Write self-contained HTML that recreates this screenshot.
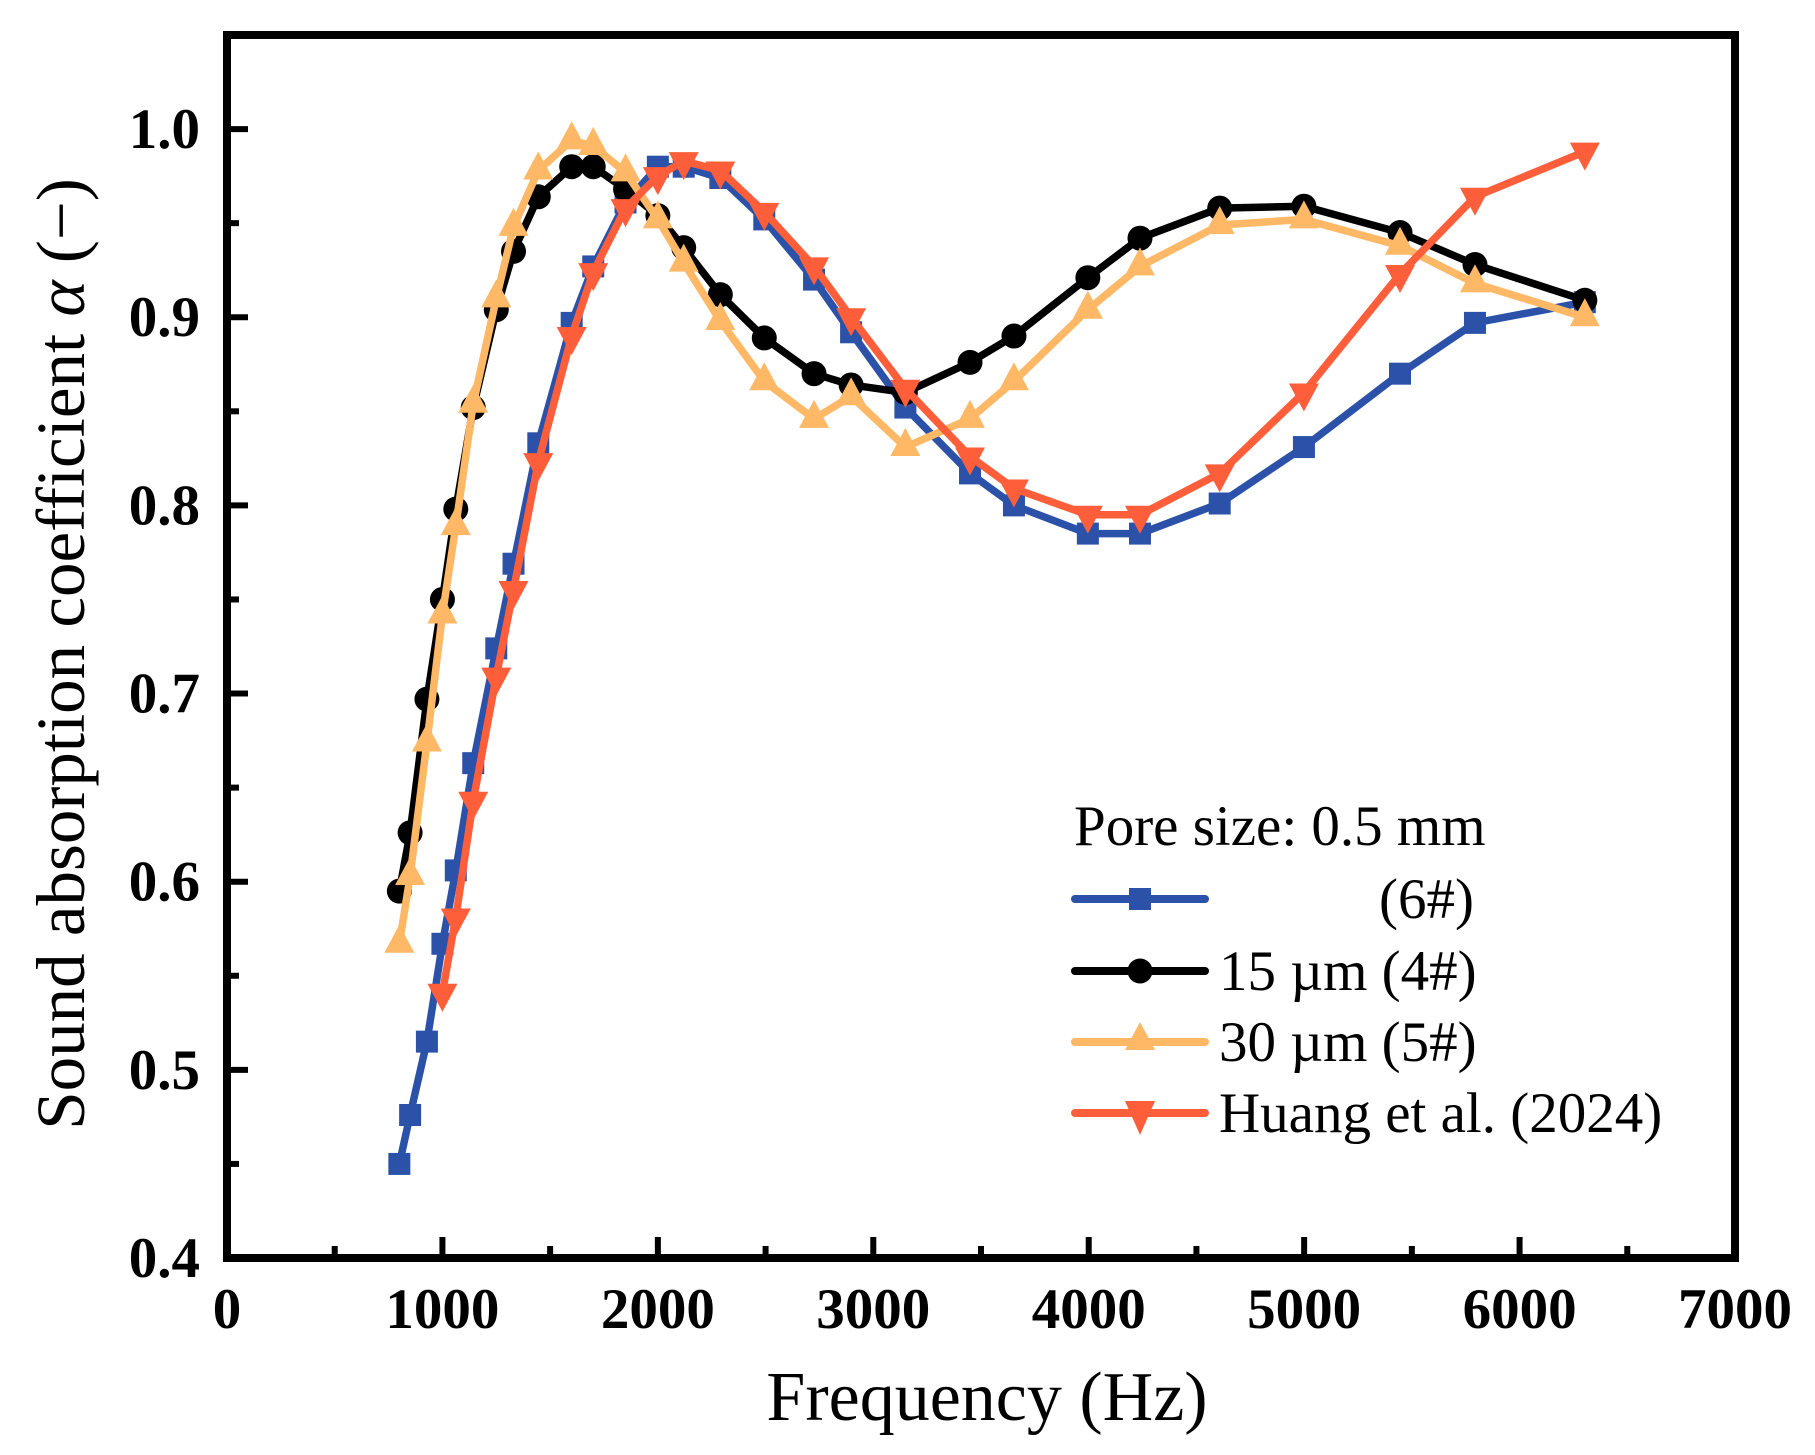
<!DOCTYPE html>
<html><head><meta charset="utf-8"><style>
html,body{margin:0;padding:0;background:#fff;}
svg{display:block;font-family:"Liberation Serif",serif;}
</style></head><body>
<svg id="chart" width="1815" height="1455" viewBox="0 0 1815 1455">
<g id="plot"></g>
<g id="axes"></g>
<text x="987" y="1420" font-size="70" text-anchor="middle">Frequency (Hz)</text>
<text transform="translate(84,654) rotate(-90)" font-size="69" text-anchor="middle">Sound absorption coefficient <tspan font-style="italic">α</tspan> (−)</text>
<g>
<text x="1074" y="845" font-size="57">Pore size: 0.5 mm</text>
<g>
<line x1="1075" y1="899" x2="1205" y2="899" stroke="#2b52a8" stroke-width="8" stroke-linecap="round"/>
<rect x="1129" y="888" width="22" height="22" fill="#2b52a8"/>
<text x="1379" y="918" font-size="57">(6#)</text></g>
<g>
<line x1="1075" y1="971" x2="1205" y2="971" stroke="#000" stroke-width="8" stroke-linecap="round"/>
<circle cx="1140" cy="971" r="12.5" fill="#000"/>
<text x="1219" y="990" font-size="57">15 µm (4#)</text></g>
<g>
<line x1="1075" y1="1042" x2="1205" y2="1042" stroke="#ffb866" stroke-width="8" stroke-linecap="round"/>
<polygon points="1140,1022 1155,1050 1125,1050" fill="#ffb866"/>
<text x="1219" y="1061" font-size="57">30 µm (5#)</text></g>
<g>
<line x1="1075" y1="1113" x2="1205" y2="1113" stroke="#ff5e3a" stroke-width="8" stroke-linecap="round"/>
<polygon points="1140,1135 1155,1101 1125,1101" fill="#ff5e3a"/>
<text x="1219" y="1132" font-size="57">Huang et al. (2024)</text></g>
</g>
</svg>
<script>
const freqs = [800,850,928,1000,1062,1143,1250,1330,1445,1600,1700,1850,2000,2120,2290,2494,2725,2897,3149,3449,3653,3996,4238,4608,4999,5445,5793,6303];
const blueVals = [0.450,0.476,0.515,0.567,0.606,0.663,0.724,0.769,0.833,0.897,0.927,0.961,0.980,0.980,0.974,0.952,0.920,0.892,0.852,0.817,0.800,0.785,0.785,0.801,0.831,0.870,0.897,0.908];
const blackVals = [0.595,0.626,0.697,0.750,0.798,0.852,0.904,0.935,0.964,0.980,0.980,0.968,0.954,0.937,0.912,0.889,0.870,0.864,0.860,0.876,0.890,0.921,0.942,0.958,0.959,0.945,0.928,0.909];
const orangeVals = [0.567,0.603,0.674,0.742,0.789,0.854,0.910,0.948,0.978,0.994,0.991,0.977,0.952,0.929,0.898,0.866,0.846,0.858,0.831,0.846,0.866,0.904,0.927,0.949,0.952,0.938,0.918,0.900];
const redVals = [null,null,null,0.541,0.581,0.643,0.709,0.755,0.823,0.890,0.924,0.958,0.975,0.983,0.978,0.956,0.927,0.900,0.862,0.826,0.809,0.795,0.795,0.817,0.860,0.923,0.964,0.988];
const xTicks = [0,1000,2000,3000,4000,5000,6000,7000];
const yTicks = [0.4,0.5,0.6,0.7,0.8,0.9,1.0];

const NS='http://www.w3.org/2000/svg';
const X0=227,X1=1735,Y0=1258,Y1=35;
const xs=v=>X0+(v-0)/7000*(X1-X0);
const ys=v=>Y0-(v-0.4)/0.65*(Y0-Y1);
function mk(tag,attrs,parent){const e=document.createElementNS(NS,tag);for(const k in attrs)e.setAttribute(k,attrs[k]);parent.appendChild(e);return e;}
const plot=document.getElementById('plot'),axes=document.getElementById('axes');

function series(vals,color,shape,name){
  const g=mk('g',{},plot);
  
  
  const pts=[];vals.forEach((v,i)=>{if(v!=null)pts.push([xs(freqs[i]),ys(v)]);});
  const pl=mk('polyline',{points:pts.map(p=>p.join(',')).join(' '),fill:'none',stroke:color,'stroke-width':7.5,'stroke-linejoin':'round','stroke-linecap':'round'},g);
  
  
  pts.forEach(([x,y])=>{
    let m;
    if(shape==='square')m=mk('rect',{x:x-11,y:y-11,width:22,height:22,fill:color},g);
    else if(shape==='circle')m=mk('circle',{cx:x,cy:y,r:12.5,fill:color},g);
    else if(shape==='up')m=mk('polygon',{points:`${x},${y-19} ${x+15},${y+9} ${x-15},${y+9}`,fill:color},g);
    else m=mk('polygon',{points:`${x},${y+19} ${x+15},${y-9} ${x-15},${y-9}`,fill:color},g);
    
    
  });
}
series(blueVals,'#2b52a8','square','series-6');
series(blackVals,'#000','circle','series-4');
series(orangeVals,'#ffb866','up','series-5');
series(redVals,'#ff5e3a','down','series-huang');

const frame=mk('rect',{x:X0,y:Y1,width:X1-X0,height:Y0-Y1,fill:'none',stroke:'#000','stroke-width':8},axes);


for(let v=500;v<7000;v+=500){
  const x=xs(v),major=v%1000===0;
  const t=mk('line',{x1:x,x2:x,y1:Y0,y2:Y0-(major?21:12),stroke:'#000','stroke-width':6},axes);
  
  
}
xTicks.forEach(v=>{
  const t=mk('text',{x:xs(v),y:1328,'font-size':57,'font-weight':'bold','text-anchor':'middle'},axes);
  t.textContent=v;
  
  
});
for(let k=0;k<=12;k++){
  const v=0.4+k*0.05,y=ys(v),major=k%2===0;
  const t=mk('line',{x1:X0,x2:X0+(major?21:12),y1:y,y2:y,stroke:'#000','stroke-width':6},axes);
  
  
}
yTicks.forEach(v=>{
  const t=mk('text',{x:200,y:ys(v)+19,'font-size':57,'font-weight':'bold','text-anchor':'end'},axes);
  t.textContent=v.toFixed(1);
  
  
});
</script>
</body></html>
